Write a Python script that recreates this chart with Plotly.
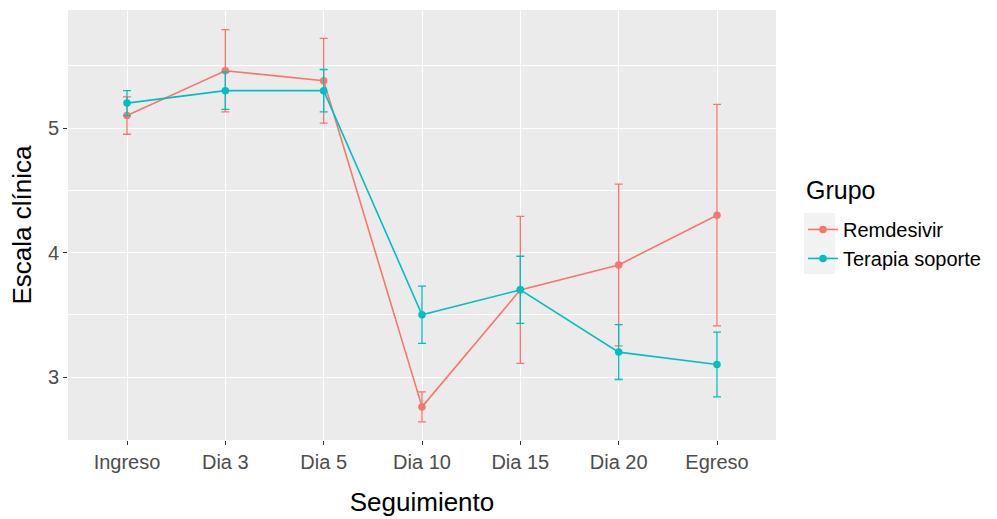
import plotly.graph_objects as go

categorias = ["Ingreso", "Dia 3", "Dia 5", "Dia 10", "Dia 15", "Dia 20", "Egreso"]

rem_media = [5.10, 5.46, 5.38, 2.76, 3.70, 3.90, 4.30]
rem_sup = [5.25, 5.79, 5.72, 2.88, 4.29, 4.55, 5.19]
rem_inf = [4.95, 5.13, 5.04, 2.64, 3.11, 3.25, 3.41]

ter_media = [5.20, 5.30, 5.30, 3.50, 3.70, 3.20, 3.10]
ter_sup = [5.30, 5.45, 5.47, 3.73, 3.97, 3.42, 3.36]
ter_inf = [5.10, 5.15, 5.13, 3.27, 3.43, 2.98, 2.84]

y_ticks = [3, 4, 5]

ROJO = "#F8766D"
CIAN = "#00BFC4"
FONT = "Liberation Sans, Arial, sans-serif"

x_idx = list(range(len(categorias)))

fig = go.Figure()


def add_series(nombre, media, sup, inf, color):
    fig.add_trace(go.Scatter(
        x=x_idx, y=media, name=nombre, mode="lines+markers",
        legendgroup=nombre,
        line=dict(color=color, width=1.6),
        marker=dict(color=color, size=7.5),
        error_y=dict(type="data", symmetric=False,
                     array=[s - m for s, m in zip(sup, media)],
                     arrayminus=[m - i for m, i in zip(media, inf)],
                     color=color, thickness=1.3, width=4),
    ))


add_series("Remdesivir", rem_media, rem_sup, rem_inf, ROJO)
add_series("Terapia soporte", ter_media, ter_sup, ter_inf, CIAN)

# legend key background (ggplot style)
fig.add_shape(type="rect", xref="paper", yref="paper",
              x0=(804 - 68) / 708, x1=(835 - 68) / 708,
              y0=(440 - 274) / 430, y1=(440 - 213) / 430,
              fillcolor="#F2F2F2", line=dict(width=0), layer="below")

fig.add_annotation(text="Grupo", xref="paper", yref="paper",
                   x=(804 - 68) / 708, y=(440 - 190) / 430,
                   xanchor="left", yanchor="middle", showarrow=False,
                   font=dict(size=25, color="black", family=FONT))

fig.update_layout(
    width=997, height=519,
    margin=dict(l=68, r=221, t=10, b=79),
    paper_bgcolor="white",
    plot_bgcolor="#EBEBEB",
    font=dict(family=FONT, color="black"),
    showlegend=True,
    legend=dict(
        font=dict(size=20, color="black"),
        x=(803 - 68) / 708, xanchor="left", y=0.535, yanchor="top",
        bgcolor="rgba(0,0,0,0)",
        itemwidth=30,
        traceorder="grouped", tracegroupgap=0,
    ),
    xaxis=dict(
        range=[-0.6, 6.6],
        automargin=False,
        tickmode="array", tickvals=x_idx, ticktext=categorias,
        showgrid=True, gridcolor="white", gridwidth=1.4,
        zeroline=False, showline=False,
        ticks="outside", ticklen=4, tickcolor="#333333", tickwidth=1,
        tickfont=dict(size=20, color="#4D4D4D"),
        title=dict(text="Seguimiento", font=dict(size=26, color="black"), standoff=20),
    ),
    yaxis=dict(
        range=[2.494, 5.948],
        automargin=False,
        tickmode="array", tickvals=y_ticks, ticktext=[str(v) for v in y_ticks],
        showgrid=True, gridcolor="white", gridwidth=1.4,
        minor=dict(showgrid=True, gridcolor="white", gridwidth=0.7,
                   tickmode="array", tickvals=[2.5, 3.5, 4.5, 5.5]),
        zeroline=False, showline=False,
        ticks="outside", ticklen=4, tickcolor="#333333", tickwidth=1,
        tickfont=dict(size=20, color="#4D4D4D"),
        title=dict(text="Escala clínica", font=dict(size=26, color="black"), standoff=8),
    ),
)

fig.write_html("out.html")
